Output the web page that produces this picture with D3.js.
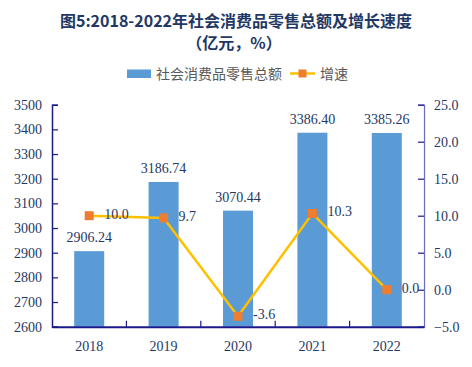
<!DOCTYPE html>
<html><head><meta charset="utf-8">
<script src="https://cdn.jsdelivr.net/npm/d3@7/dist/d3.min.js"></script>
<style>body{margin:0;background:#fff}svg{display:block}</style>
</head><body>
<script>
const categories = ["2018","2019","2020","2021","2022"];
const salesValues = [2906.24, 3186.74, 3070.44, 3386.40, 3385.26];
const growthValues = [10.0, 9.7, -3.6, 10.3, 0.0];
const leftTicks = [2600,2700,2800,2900,3000,3100,3200,3300,3400,3500];
const rightTicks = [-5,0,5,10,15,20,25];
const seriesNames = ["社会消费品零售总额","增速"];
const titleLines = ["图5:2018-2022年社会消费品零售总额及增长速度","（亿元，%）"];

const W=472,H=367;
const m={l:52,r:48,t:104.7,b:40.3};
const svg=d3.select("body").append("svg").attr("width",W).attr("height",H);
const navy="#1F3864";
const serif="'Liberation Serif','Times New Roman',serif";
const cjk="'Noto Sans CJK SC','Noto Sans',sans-serif";

const x=d3.scaleBand().domain(categories).range([m.l,W-m.r]);
const yL=d3.scaleLinear().domain([2600,3500]).range([H-m.b,m.t]);
const yR=d3.scaleLinear().domain([-5,25]).range([H-m.b,m.t]);

// title
svg.append("text").attr("x",236).attr("y",27).attr("text-anchor","middle")
 .attr("font-family",cjk).attr("font-weight","bold").attr("font-size",16).attr("fill",navy).text(titleLines[0]);
svg.append("text").attr("x",234).attr("y",49).attr("text-anchor","middle")
 .attr("font-family",cjk).attr("font-weight","bold").attr("font-size",16).attr("fill",navy).text(titleLines[1]);

// legend
const lg=svg.append("g");
lg.append("rect").attr("x",127).attr("y",69.5).attr("width",24).attr("height",8.5).attr("fill","#5B9BD5");
lg.append("text").attr("x",156).attr("y",79).attr("font-family",cjk).attr("font-size",14).attr("fill","#595959").text(seriesNames[0]);
lg.append("line").attr("x1",290).attr("x2",315).attr("y1",73.5).attr("y2",73.5).attr("stroke","#FFC000").attr("stroke-width",2.5);
lg.append("rect").attr("x",298.5).attr("y",69.5).attr("width",8).attr("height",8).attr("fill","#ED7D31");
lg.append("text").attr("x",320).attr("y",79).attr("font-family",cjk).attr("font-size",14).attr("fill","#595959").text(seriesNames[1]);

// bars
const bw=30;
svg.append("g").selectAll("rect").data(salesValues).join("rect")
 .attr("x",(d,i)=>x(categories[i])+x.bandwidth()/2-bw/2)
 .attr("y",d=>yL(d)).attr("width",bw).attr("height",d=>yL(2600)-yL(d))
 .attr("fill","#5B9BD5");
svg.append("g").selectAll("text").data(salesValues).join("text")
 .attr("x",(d,i)=>x(categories[i])+x.bandwidth()/2)
 .attr("y",d=>yL(d)-9).attr("text-anchor","middle")
 .attr("font-family",serif).attr("font-size",14).attr("fill",navy)
 .text(d=>d.toFixed(2));

// axes
const axL=svg.append("g").attr("transform",`translate(${m.l},0)`)
 .call(d3.axisLeft(yL).tickValues(leftTicks).tickSize(-6).tickPadding(10).tickFormat(d3.format("d")));
axL.select(".domain").attr("stroke","#1a1a8c").attr("stroke-width",1.5);
axL.selectAll(".tick line").attr("stroke","#1a1a8c").attr("stroke-width",1.2);
axL.selectAll("text").attr("font-family",serif).attr("font-size",14).attr("fill",navy);

const axR=svg.append("g").attr("transform",`translate(${W-m.r},0)`)
 .call(d3.axisRight(yR).tickValues(rightTicks).tickSize(-6).tickPadding(10).tickFormat(d3.format(".1f")));
axR.select(".domain").attr("stroke","#6A6AC0").attr("stroke-width",1.2);
axR.selectAll(".tick line").attr("stroke","#1a1a8c").attr("stroke-width",1.2);
axR.selectAll("text").attr("font-family",serif).attr("font-size",14).attr("fill",navy);

const axB=svg.append("g").attr("transform",`translate(0,${H-m.b})`)
 .call(d3.axisBottom(x).tickSize(0).tickPadding(14));
axB.select(".domain").attr("stroke","#1a1a8c").attr("stroke-width",2);
axB.selectAll("text").attr("font-family",serif).attr("font-size",14).attr("fill",navy);
// inward category separator ticks
svg.append("g").selectAll("line").data(categories.slice(1)).join("line")
 .attr("x1",d=>x(d)).attr("x2",d=>x(d)).attr("y1",H-m.b).attr("y2",H-m.b-6)
 .attr("stroke","#1a1a8c").attr("stroke-width",1.2);

// line
const line=d3.line().x((d,i)=>x(categories[i])+x.bandwidth()/2).y(d=>yR(d));
svg.append("path").datum(growthValues).attr("d",line).attr("fill","none")
 .attr("stroke","#FFC000").attr("stroke-width",2.5).attr("stroke-linejoin","round");
svg.append("g").selectAll("rect").data(growthValues).join("rect")
 .attr("x",(d,i)=>x(categories[i])+x.bandwidth()/2-4.5).attr("y",d=>yR(d)-4.5)
 .attr("width",9).attr("height",9).attr("fill","#ED7D31");
svg.append("g").selectAll("text").data(growthValues).join("text")
 .attr("x",(d,i)=>x(categories[i])+x.bandwidth()/2+15)
 .attr("y",d=>yR(d)+3).attr("font-family",serif).attr("font-size",14).attr("fill",navy)
 .text(d=>d.toFixed(1));
</script>
</body></html>
